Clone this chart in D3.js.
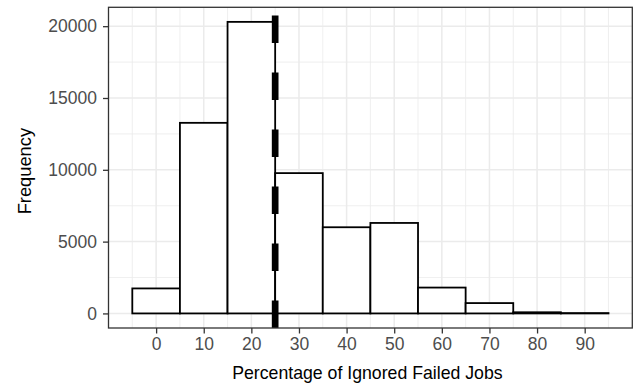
<!DOCTYPE html>
<html>
<head>
<meta charset="utf-8">
<script src="https://cdn.jsdelivr.net/npm/d3@7"></script>
<style>
  html, body { margin: 0; padding: 0; background: #fff; }
  text { font-family: "Liberation Sans", Arial, Helvetica, sans-serif; }
</style>
</head>
<body>
<svg id="chart" width="633" height="383"></svg>
<script>
// ---- data ----
const binCenters = [0, 10, 20, 30, 40, 50, 60, 70, 80, 90];
const binCounts  = [1740, 13270, 20300, 9770, 6000, 6300, 1800, 720, 80, 25];
const binWidth = 10;
const meanLine = 25;
const xTicks = [0, 10, 20, 30, 40, 50, 60, 70, 80, 90];
const xMinor = [-5, 5, 15, 25, 35, 45, 55, 65, 75, 85, 95];
const yTicks = [0, 5000, 10000, 15000, 20000];
const yMinor = [2500, 7500, 12500, 17500];
const xTitle = "Percentage of Ignored Failed Jobs";
const yTitle = "Frequency";

// ---- layout ----
const svg = d3.select("#chart");
const panel = { left: 108.5, right: 632.3, top: 7.3, bottom: 328 };

const xLo = d3.min(binCenters) - binWidth / 2, xHi = d3.max(binCenters) + binWidth / 2;
const xPad = (xHi - xLo) * 0.05;
const x = d3.scaleLinear().domain([xLo - xPad, xHi + xPad]).range([panel.left, panel.right]);
const yMax = d3.max(binCounts);
const y = d3.scaleLinear().domain([-0.05 * yMax, 1.05 * yMax]).range([panel.bottom, panel.top]);

const g = svg.append("g");
const clipId = "pclip";
svg.append("defs").append("clipPath").attr("id", clipId)
  .append("rect").attr("x", panel.left).attr("y", panel.top)
  .attr("width", panel.right - panel.left).attr("height", panel.bottom - panel.top);

// background
g.append("rect").attr("x", panel.left).attr("y", panel.top)
  .attr("width", panel.right - panel.left).attr("height", panel.bottom - panel.top)
  .attr("fill", "#fff");

// grid
const grid = g.append("g").attr("clip-path", `url(#${clipId})`);
grid.selectAll(".xminor").data(xMinor).join("line")
  .attr("x1", d => x(d)).attr("x2", d => x(d)).attr("y1", panel.top).attr("y2", panel.bottom)
  .attr("stroke", "#ebebeb").attr("stroke-width", 0.8);
grid.selectAll(".yminor").data(yMinor).join("line")
  .attr("y1", d => y(d)).attr("y2", d => y(d)).attr("x1", panel.left).attr("x2", panel.right)
  .attr("stroke", "#ebebeb").attr("stroke-width", 0.8);
grid.selectAll(".xmajor").data(xTicks).join("line")
  .attr("x1", d => x(d)).attr("x2", d => x(d)).attr("y1", panel.top).attr("y2", panel.bottom)
  .attr("stroke", "#ebebeb").attr("stroke-width", 1.5);
grid.selectAll(".ymajor").data(yTicks).join("line")
  .attr("y1", d => y(d)).attr("y2", d => y(d)).attr("x1", panel.left).attr("x2", panel.right)
  .attr("stroke", "#ebebeb").attr("stroke-width", 1.5);

// bars
const bars = g.append("g").attr("clip-path", `url(#${clipId})`);
bars.selectAll("rect").data(binCenters).join("rect")
  .attr("x", d => x(d - binWidth / 2))
  .attr("width", d => x(d + binWidth / 2) - x(d - binWidth / 2))
  .attr("y", (d, i) => y(binCounts[i]))
  .attr("height", (d, i) => y(0) - y(binCounts[i]))
  .attr("fill", "#fff").attr("stroke", "#000").attr("stroke-width", 1.8);

// mean line (dashed, drawn from bottom up)
bars.append("line")
  .attr("x1", x(meanLine)).attr("x2", x(meanLine))
  .attr("y1", panel.bottom).attr("y2", panel.top)
  .attr("stroke", "#000").attr("stroke-width", 6.7)
  .attr("stroke-dasharray", "27.5,29.5");

// panel border
g.append("rect").attr("x", panel.left).attr("y", panel.top)
  .attr("width", panel.right - panel.left).attr("height", panel.bottom - panel.top)
  .attr("fill", "none").attr("stroke", "#333333").attr("stroke-width", 1.3);

// x axis
const xAxis = g.append("g").attr("transform", `translate(0,${panel.bottom})`)
  .call(d3.axisBottom(x).tickValues(xTicks).tickSize(5.5).tickPadding(4).tickFormat(d3.format("d")));
xAxis.select(".domain").remove();
xAxis.selectAll(".tick line").attr("stroke", "#333333").attr("stroke-width", 1.3);
xAxis.selectAll(".tick text").attr("fill", "#4d4d4d").attr("font-size", "17.5px")
  .attr("font-family", "Liberation Sans, Arial, sans-serif");

// y axis
const yAxis = g.append("g").attr("transform", `translate(${panel.left},0)`)
  .call(d3.axisLeft(y).tickValues(yTicks).tickSize(5.5).tickPadding(6).tickFormat(d3.format("d")));
yAxis.select(".domain").remove();
yAxis.selectAll(".tick line").attr("stroke", "#333333").attr("stroke-width", 1.3);
yAxis.selectAll(".tick text").attr("fill", "#4d4d4d").attr("font-size", "17.5px")
  .attr("font-family", "Liberation Sans, Arial, sans-serif");

// titles
svg.append("text").attr("x", (panel.left + panel.right) / 2 - 3).attr("y", 378.7)
  .attr("text-anchor", "middle").attr("font-size", "17.7px").attr("fill", "#000").text(xTitle);
svg.append("text")
  .attr("transform", `translate(31,${(panel.top + panel.bottom) / 2 + 3.5}) rotate(-90)`)
  .attr("text-anchor", "middle").attr("font-size", "18.3px").attr("fill", "#000").text(yTitle);
</script>
</body>
</html>
